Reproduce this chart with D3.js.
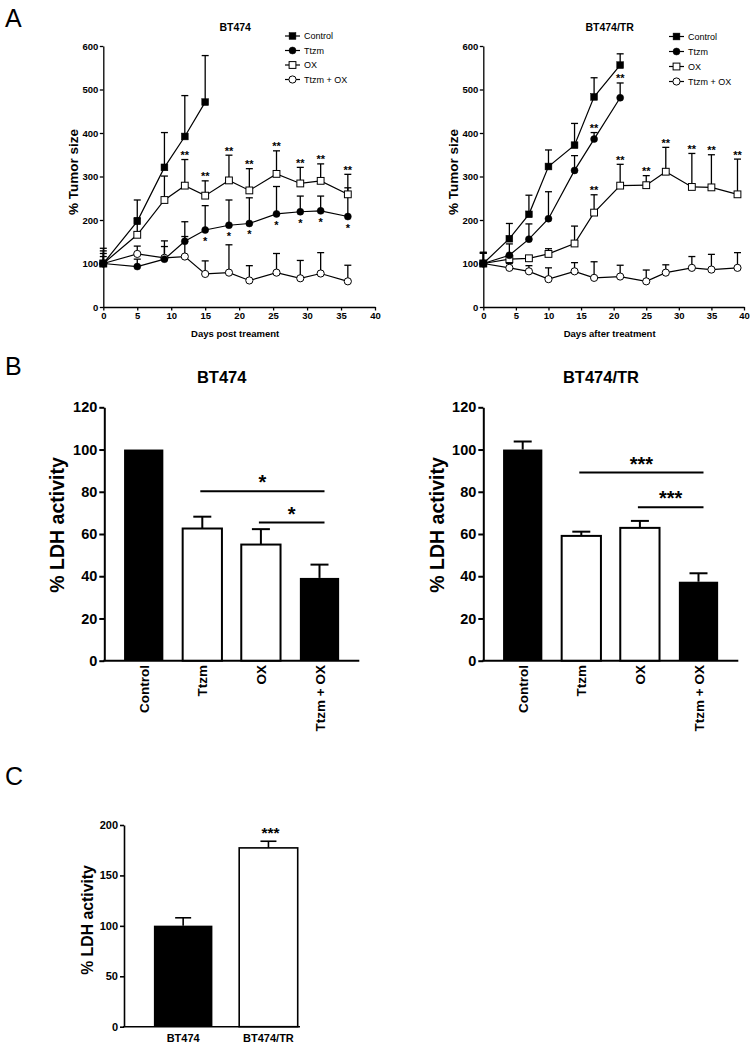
<!DOCTYPE html>
<html><head><meta charset="utf-8">
<script src="https://cdn.jsdelivr.net/npm/d3@7"></script>
<style>
body{margin:0;background:#fff}
svg{display:block}
text{font-family:"Liberation Sans",Arial,Helvetica,sans-serif;fill:#000}
</style>
</head><body>
<svg id="c" width="756" height="1050"></svg>
<script>
// ---------------- Panel A data ----------------
const seriesNames = ["Control", "Ttzm", "OX", "Ttzm + OX"];
const xTicksA = [0,5,10,15,20,25,30,35,40];
const yTicksA = [0,100,200,300,400,500,600];

// BT474 (days post treatment)
const daysBT474 = [0,5,9,12,15,18.5,21.5,25.5,29,32,36];
const ctrlBT474 = [100,197,321,392,471];
const ctrlBT474Top = [135,246,401,486,578];
const ttzmBT474 = [100,93,110,151,177,188,192,214,219,221,208];
const ttzmBT474Top = [123,110,152,196,233,246,251,277,255,255,274];
const oxBT474 = [100,166,246,279,256,291,268,306,284,290,259];
const oxBT474Top = [129,205,301,339,290,349,318,359,321,329,305];
const comboBT474 = [100,122,113,116,76,79,61,79,66,77,59];
const comboBT474Top = [116,140,139,162,106,143,95,123,107,125,96];
const oxStarDaysBT474 = [12,15,18.5,21.5,25.5,29,32,36];
const ttzmStarDaysBT474 = [15,18.5,21.5,25.5,29,32,36];

// BT474/TR (days after treatment)
const daysTR = [0,4,7,10,14,17,21,25,28,32,35,39];
const ctrlTR = [100,157,213,323,372,483,556];
const ctrlTRTop = [126,192,257,361,422,527,582];
const ttzmTR = [100,119,156,203,314,386,481];
const ttzmTRTop = [124,145,191,265,348,401,515];
const oxTR = [100,110,112,122,146,217,279,280,311,276,275,259];
const oxTRTop = [124,120,118,134,186,258,328,302,367,353,350,340];
const comboTR = [100,90,82,64,82,67,70,59,79,90,86,90];
const comboTRTop = [124,100,95,90,102,104,96,85,97,116,121,125];
const oxStarDaysTR = [17,21,25,28,32,35,39];
const ttzmStarDaysTR = [17,21];

// ---------------- Panel B data ----------------
const ldhCats = ["Control","Ttzm","OX","Ttzm + OX"];
const ldhFill = ["#000","#fff","#fff","#000"];
const yTicksB = [0,20,40,60,80,100,120];
const ldhBT474 = [100,62.6,55,39.2];
const ldhBT474Top = [null,68.2,62.3,45.5];
const ldhTR = [100,59.1,62.9,37.4];
const ldhTRTop = [103.8,61.1,66.2,41.4];
const sigBT474 = [{from:"Ttzm",to:"Ttzm + OX",y:80.3,label:"*"},{from:"OX",to:"Ttzm + OX",y:65.4,label:"*"}];
const sigTR = [{from:"Ttzm",to:"Ttzm + OX",y:89.1,label:"***"},{from:"OX",to:"Ttzm + OX",y:72.7,label:"***"}];

// ---------------- Panel C data ----------------
const lineCats = ["BT474","BT474/TR"];
const lineFill = ["#000","#fff"];
const ldhLines = [100.2,177.3];
const ldhLinesTop = [108,183.9];
const yTicksC = [0,50,100,150,200];
const sigC = ["", "***"];

// ---------------- drawing ----------------
const svg = d3.select("#c");

function panelLetter(t, x, y){
  svg.append("text").attr("x",x).attr("y",y).attr("font-size",25).text(t);
}
panelLetter("A",5,27);
panelLetter("B",5,375);
panelLetter("C",5,785);

function marker(g, shape, fill, cx, cy){
  if(shape==="square"){
    g.append("rect").attr("x",cx-3.4).attr("y",cy-3.4).attr("width",6.8).attr("height",6.8)
      .attr("fill",fill).attr("stroke","#000").attr("stroke-width",fill==="#000"?0.5:1);
  } else {
    g.append("circle").attr("cx",cx).attr("cy",cy).attr("r",fill==="#000"?3.5:3.6)
      .attr("fill",fill).attr("stroke","#000").attr("stroke-width",fill==="#000"?0.5:1);
  }
}

function tumorPanel(o){
  const g = svg.append("g");
  const x = d3.scaleLinear().domain([0,40]).range(o.xr);
  const y = d3.scaleLinear().domain([0,600]).range([307,46]);
  const ya = g.append("g").attr("transform",`translate(${x(0)},0)`)
    .call(d3.axisLeft(y).tickValues(yTicksA).tickSize(3.5).tickSizeOuter(0).tickPadding(1.5));
  const xa = g.append("g").attr("transform",`translate(0,${y(0)})`)
    .call(d3.axisBottom(x).tickValues(xTicksA).tickSize(3.5).tickSizeOuter(0).tickPadding(2));
  [ya,xa].forEach(a=>{
    a.selectAll("path,line").attr("stroke","#000").attr("stroke-width",1.3);
    a.selectAll("text").attr("font-size",9.5).attr("font-weight","bold").attr("fill","#000");
  });
  g.append("text").attr("x",(x(0)+x(40))/2-4).attr("y",31).attr("text-anchor","middle")
    .attr("font-size",10.5).attr("font-weight","bold").text(o.title);
  g.append("text").attr("x",(x(0)+x(40))/2-4).attr("y",337).attr("text-anchor","middle")
    .attr("font-size",9.5).attr("font-weight","bold").text(o.xTitle);
  g.append("text").attr("transform",`translate(${o.yTitleX},172) rotate(-90)`).attr("text-anchor","middle")
    .attr("font-size",13.5).attr("font-weight","bold").text("% Tumor size");

  const series = o.series;
  series.forEach(s=>{
    s.vals.forEach((v,i)=>{
      const t = s.tops[i]; if(t==null) return;
      const d = s.days[i];
      g.append("line").attr("x1",x(d)).attr("x2",x(d)).attr("y1",y(v)).attr("y2",y(t))
        .attr("stroke","#000").attr("stroke-width",1.3);
      g.append("line").attr("x1",x(d)-3.5).attr("x2",x(d)+3.5).attr("y1",y(t)).attr("y2",y(t))
        .attr("stroke","#000").attr("stroke-width",1.3);
    });
  });
  series.forEach(s=>{
    const pts = s.vals.map((v,i)=>[s.days[i],v]);
    g.append("path").attr("d",d3.line().x(p=>x(p[0])).y(p=>y(p[1]))(pts))
      .attr("fill","none").attr("stroke","#000").attr("stroke-width",1.2);
  });
  series.slice().reverse().forEach(s=>{
    s.vals.forEach((v,i)=>marker(g,s.shape,s.fill,x(s.days[i]),y(v)));
  });
  const ox = series[2], tz = series[1];
  o.oxStars.forEach(d=>{
    const i = ox.days.indexOf(d);
    g.append("text").attr("x",x(d)).attr("y",y(ox.tops[i])-0.5).attr("text-anchor","middle")
      .attr("font-size",11).attr("font-weight","bold").text("**");
  });
  o.ttzmStars.forEach(d=>{
    const i = tz.days.indexOf(d);
    if(o.ttzmStarBelow){
      g.append("text").attr("x",x(d)).attr("y",y(tz.vals[i])+15).attr("text-anchor","middle")
        .attr("font-size",11).attr("font-weight","bold").text("*");
    } else {
      g.append("text").attr("x",x(d)).attr("y",y(tz.tops[i])-0.5).attr("text-anchor","middle")
        .attr("font-size",11).attr("font-weight","bold").text("**");
    }
  });
  series.forEach((s,k)=>{
    const ly = o.legY[k];
    g.append("line").attr("x1",o.legX).attr("x2",o.legX+15).attr("y1",ly).attr("y2",ly)
      .attr("stroke","#000").attr("stroke-width",1.2);
    marker(g,s.shape,s.fill,o.legX+7.5,ly);
    g.append("text").attr("x",o.legX+19).attr("y",ly).attr("dy","0.35em")
      .attr("font-size",9).text(s.name);
  });
}

tumorPanel({
  xr:[103.3,375], title:"BT474", xTitle:"Days post treament", yTitleX:77.5,
  legX:285, legY:[36,50.5,65,79.5],
  oxStars:oxStarDaysBT474, ttzmStars:ttzmStarDaysBT474, ttzmStarBelow:true,
  series:[
    {name:seriesNames[0],days:daysBT474.slice(0,ctrlBT474.length),vals:ctrlBT474,tops:ctrlBT474Top,shape:"square",fill:"#000"},
    {name:seriesNames[1],days:daysBT474,vals:ttzmBT474,tops:ttzmBT474Top,shape:"circle",fill:"#000"},
    {name:seriesNames[2],days:daysBT474,vals:oxBT474,tops:oxBT474Top,shape:"square",fill:"#fff"},
    {name:seriesNames[3],days:daysBT474,vals:comboBT474,tops:comboBT474Top,shape:"circle",fill:"#fff"}
  ]
});
tumorPanel({
  xr:[483.3,744], title:"BT474/TR", xTitle:"Days after treatment", yTitleX:457.5,
  legX:669, legY:[36.5,51.5,66.5,81.5],
  oxStars:oxStarDaysTR, ttzmStars:ttzmStarDaysTR, ttzmStarBelow:false,
  series:[
    {name:seriesNames[0],days:daysTR.slice(0,ctrlTR.length),vals:ctrlTR,tops:ctrlTRTop,shape:"square",fill:"#000"},
    {name:seriesNames[1],days:daysTR.slice(0,ttzmTR.length),vals:ttzmTR,tops:ttzmTRTop,shape:"circle",fill:"#000"},
    {name:seriesNames[2],days:daysTR,vals:oxTR,tops:oxTRTop,shape:"square",fill:"#fff"},
    {name:seriesNames[3],days:daysTR,vals:comboTR,tops:comboTRTop,shape:"circle",fill:"#fff"}
  ]
});

// Panel B
function ldhPanel(o){
  const g = svg.append("g");
  const y = d3.scaleLinear().domain([0,120]).range([660.7,407.3]);
  const x = d3.scaleBand().domain(ldhCats).range([o.ax+10.1, o.ax+244.5]).paddingInner(0.33).paddingOuter(0.165);
  const ya = g.append("g").attr("transform",`translate(${o.ax},0)`)
    .call(d3.axisLeft(y).tickValues(yTicksB).tickSize(5).tickSizeOuter(0).tickPadding(2));
  ya.selectAll("path,line").attr("stroke","#000").attr("stroke-width",2);
  ya.selectAll("text").attr("font-size",14.5).attr("font-weight","bold").attr("fill","#000");
  g.append("line").attr("x1",o.ax-1).attr("x2",o.ax+255).attr("y1",y(0)).attr("y2",y(0))
    .attr("stroke","#000").attr("stroke-width",2);
  ldhCats.forEach((c,i)=>{
    g.append("rect").attr("x",x(c)).attr("y",y(o.vals[i])).attr("width",x.bandwidth())
      .attr("height",y(0)-y(o.vals[i])).attr("fill",ldhFill[i]).attr("stroke","#000")
      .attr("stroke-width",ldhFill[i]==="#000"?0:2);
    const t = o.tops[i];
    if(t!=null){
      const cx = x(c)+x.bandwidth()/2;
      g.append("line").attr("x1",cx).attr("x2",cx).attr("y1",y(o.vals[i])).attr("y2",y(t))
        .attr("stroke","#000").attr("stroke-width",2);
      g.append("line").attr("x1",cx-9).attr("x2",cx+9).attr("y1",y(t)).attr("y2",y(t))
        .attr("stroke","#000").attr("stroke-width",2);
    }
    g.append("text").attr("transform",`translate(${x(c)+x.bandwidth()/2+5},665) rotate(-90)`)
      .attr("text-anchor","end").attr("font-size",13.5).attr("font-weight","bold").text(c);
  });
  o.sig.forEach(s=>{
    const x1 = x(s.from)+x.bandwidth()/2-2, x2 = x(s.to)+x.bandwidth()/2+5;
    g.append("line").attr("x1",x1).attr("x2",x2).attr("y1",y(s.y)).attr("y2",y(s.y))
      .attr("stroke","#000").attr("stroke-width",2);
    g.append("text").attr("x",(x1+x2)/2).attr("y",y(s.y)-2).attr("text-anchor","middle")
      .attr("font-size",20).attr("font-weight","bold").text(s.label);
  });
  g.append("text").attr("x",o.titleX).attr("y",383).attr("text-anchor","middle")
    .attr("font-size",16.5).attr("font-weight","bold").text(o.title);
  g.append("text").attr("transform",`translate(${o.yTitleX},525) rotate(-90)`).attr("text-anchor","middle")
    .attr("font-size",19.5).attr("font-weight","bold").text("% LDH activity");
}
ldhPanel({ax:104.3, vals:ldhBT474, tops:ldhBT474Top, sig:sigBT474, title:"BT474", titleX:221.7, yTitleX:64});
ldhPanel({ax:483.3, vals:ldhTR, tops:ldhTRTop, sig:sigTR, title:"BT474/TR", titleX:601, yTitleX:443.5});

// Panel C
(function(){
  const g = svg.append("g");
  const ax = 124;
  const y = d3.scaleLinear().domain([0,200]).range([1026.7,825]);
  const x = d3.scaleBand().domain(lineCats).range([140.5,311.1]).paddingInner(0.314).paddingOuter(0.157);
  const ya = g.append("g").attr("transform",`translate(${ax},0)`)
    .call(d3.axisLeft(y).tickValues(yTicksC).tickSize(4).tickSizeOuter(0).tickPadding(2));
  ya.selectAll("path,line").attr("stroke","#000").attr("stroke-width",1.6);
  ya.selectAll("text").attr("font-size",11).attr("font-weight","bold").attr("fill","#000");
  g.append("line").attr("x1",ax-1).attr("x2",300).attr("y1",y(0)).attr("y2",y(0))
    .attr("stroke","#000").attr("stroke-width",1.6);
  lineCats.forEach((c,i)=>{
    g.append("rect").attr("x",x(c)).attr("y",y(ldhLines[i])).attr("width",x.bandwidth())
      .attr("height",y(0)-y(ldhLines[i])).attr("fill",lineFill[i]).attr("stroke","#000")
      .attr("stroke-width",lineFill[i]==="#000"?0:1.6);
    const cx = x(c)+x.bandwidth()/2;
    g.append("line").attr("x1",cx).attr("x2",cx).attr("y1",y(ldhLines[i])).attr("y2",y(ldhLinesTop[i]))
      .attr("stroke","#000").attr("stroke-width",1.6);
    g.append("line").attr("x1",cx-8).attr("x2",cx+8).attr("y1",y(ldhLinesTop[i])).attr("y2",y(ldhLinesTop[i]))
      .attr("stroke","#000").attr("stroke-width",1.6);
    g.append("text").attr("x",cx).attr("y",1041.5).attr("text-anchor","middle")
      .attr("font-size",11).attr("font-weight","bold").text(c);
    if(sigC[i]) g.append("text").attr("x",cx+2).attr("y",y(ldhLinesTop[i])-3).attr("text-anchor","middle")
      .attr("font-size",15.5).attr("font-weight","bold").text(sigC[i]);
  });
  g.append("text").attr("transform",`translate(93,920) rotate(-90)`).attr("text-anchor","middle")
    .attr("font-size",15.8).attr("font-weight","bold").text("% LDH activity");
})();
</script>
</body></html>
